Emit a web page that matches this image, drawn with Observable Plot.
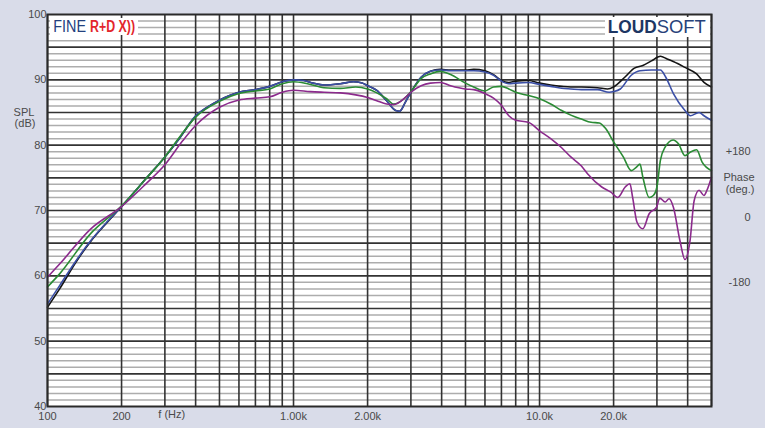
<!DOCTYPE html>
<html><head><meta charset="utf-8">
<script src="https://cdn.jsdelivr.net/npm/d3@7"></script>
<script src="https://cdn.jsdelivr.net/npm/@observablehq/plot@0.6"></script>
<style>
html,body{margin:0;padding:0;background:rgb(217,220,233);}
#chart{width:765px;height:428px;}
</style></head><body><div id="chart"></div><script>
// Frequency responses: [frequency Hz, SPL dB]
const black = [[100,55.2],[112,58.0],[130,62.0],[150,65.3],[175,68.2],[200,70.6],[253,75.0],[300,78.2],[340,80.8],[400,84.4],[450,85.9],[500,86.9],[600,88.1],[700,88.5],[800,89.0],[900,89.7],[1000,90.0],[1100,89.9],[1200,89.5],[1330,89.2],[1550,89.4],[1750,89.7],[1900,89.5],[2000,89.1],[2180,88.4],[2390,86.8],[2600,85.3],[2700,85.2],[2850,86.6],[3000,88.1],[3300,90.4],[3600,91.3],[3950,91.6],[4350,91.5],[5000,91.5],[5400,91.6],[6000,91.4],[6500,90.8],[7000,89.9],[7500,89.6],[8000,89.8],[9000,89.9],[10000,89.5],[11100,89.2],[12300,89.0],[13400,88.9],[14800,88.9],[17200,88.8],[18900,88.6],[20000,88.9],[22200,90.4],[24300,91.8],[26300,92.2],[28500,92.9],[31000,93.6],[33000,93.2],[36400,92.5],[39000,91.9],[43500,90.9],[46600,89.6],[50000,88.9]];
const blue = [[100,55.7],[112,58.5],[130,62.2],[150,65.4],[175,68.3],[200,70.6],[253,75.0],[300,78.2],[340,80.8],[400,84.5],[450,85.9],[500,86.9],[600,88.1],[700,88.5],[800,89.0],[900,89.7],[1000,90.0],[1100,89.9],[1200,89.5],[1330,89.2],[1550,89.4],[1750,89.7],[1900,89.5],[2000,89.1],[2180,88.4],[2390,86.8],[2600,85.3],[2700,85.2],[2850,86.6],[3000,88.1],[3300,90.4],[3600,91.3],[3950,91.5],[4350,91.4],[5000,91.4],[5400,91.4],[6000,91.2],[6500,90.7],[7000,89.8],[7500,89.4],[8000,89.5],[9000,89.6],[10000,89.3],[11100,89.0],[12300,88.7],[13400,88.6],[14800,88.5],[17200,88.5],[19200,88.1],[20000,88.2],[21300,88.6],[23600,90.7],[25600,91.4],[28500,91.5],[31000,91.5],[32600,90.4],[35000,87.9],[39000,85.3],[41000,84.5],[44500,85.0],[46600,84.5],[50000,83.8]];
const green = [[100,58.3],[112,60.3],[150,66.5],[200,70.7],[253,75.0],[300,78.2],[336,80.7],[400,84.3],[500,86.7],[600,87.9],[700,88.3],[800,88.6],[900,89.4],[1000,89.7],[1140,89.4],[1330,88.8],[1550,88.7],[1790,88.9],[2000,88.6],[2180,88.0],[2390,87.1],[2550,86.3],[2850,87.3],[3000,88.2],[3300,90.2],[3600,90.9],[3950,91.3],[4350,90.8],[5000,89.5],[5400,88.9],[6000,88.3],[6500,88.9],[7000,89.0],[7500,88.6],[8000,88.1],[9000,87.6],[10000,87.1],[11100,86.3],[12300,85.3],[13400,84.6],[14800,84.0],[16200,83.5],[17500,83.4],[18600,82.5],[20000,80.5],[21900,78.2],[23600,76.1],[24700,76.6],[25600,77.1],[26300,75.1],[27900,72.0],[29000,72.3],[30000,73.6],[31000,77.7],[32400,79.7],[34900,80.8],[36700,80.2],[39000,78.4],[40900,78.9],[43500,79.3],[45800,77.4],[50000,76.1]];
const purple = [[100,59.8],[112,61.8],[150,67.2],[200,70.6],[250,74.0],[300,77.0],[355,80.7],[400,83.0],[500,85.8],[600,86.9],[700,87.2],[800,87.4],[900,88.1],[1000,88.4],[1170,88.2],[1330,88.1],[1550,88.0],[1790,87.7],[2000,87.3],[2180,86.8],[2390,86.3],[2550,86.2],[2850,87.3],[3000,88.1],[3300,89.1],[3600,89.5],[3950,89.6],[4350,89.1],[5000,88.6],[5400,88.5],[6000,87.9],[6500,87.2],[7000,86.1],[7500,84.5],[8000,83.8],[9000,83.5],[10000,82.2],[11100,81.0],[12300,79.6],[13400,78.2],[14800,76.8],[15700,75.6],[17900,73.6],[19500,72.8],[20800,72.0],[22300,73.6],[23300,74.1],[23900,72.0],[24900,68.2],[26300,67.2],[27900,69.5],[29900,70.5],[30800,71.9],[32400,71.3],[33600,71.8],[35000,70.5],[37200,65.4],[39000,62.5],[40900,65.4],[42500,71.5],[44500,73.1],[46600,72.3],[47900,73.1],[50000,75.1]];

const xTickValues = [100,200,500,1000,2000,5000,10000,20000];
const xTickLabels = ["100","200","500","1.00k","2.00k","5.00k","10.0k","20.0k"];
const yTickValues = [40,50,60,70,80,90,100];
const phaseTicks = [180, 0, -180];
const phaseTickLabels = ["+180","0","-180"];
const xTitle = "f (Hz)";
const xTitleAt = 320;
const yTitle = ["SPL","(dB)"];
const phaseTitle = ["Phase","(deg.)"];

const xGrid = [];
for (const d of [100,1000,10000]) for (let k=1;k<=9;k++){ const f=d*k; if (f<=50000) xGrid.push(f); }
const yMinor = d3.range(41,100).filter(v => v % 5 !== 0);
const yMajor = d3.range(45,100,5);
const phaseToDb = p => 69 + p/18;

const series = [
  {data: black, color: "#141414"},
  {data: blue, color: "#3b4fa6"},
  {data: green, color: "#2a8b34"},
  {data: purple, color: "#8b2a8c"}
];

const chart = Plot.plot({
  width: 765, height: 428,
  marginLeft: 47, marginRight: 54, marginTop: 14, marginBottom: 22,
  style: {background: "transparent", fontFamily: "'Liberation Sans', Arial, sans-serif", fontSize: "11px", color: "#4a4a4a"},
  x: {type: "log", domain: [100, 50000], ticks: xTickValues, tickFormat: v => xTickLabels[xTickValues.indexOf(v)], tickSize: 0, tickPadding: 6, label: null},
  y: {domain: [40, 100], ticks: yTickValues, tickSize: 0, tickPadding: 1, label: null},
  marks: [
    Plot.frame({fill: "white", stroke: null}),
    Plot.ruleY(yMinor, {stroke: "#adadad", strokeWidth: 1.5}),
    Plot.ruleX(xGrid, {stroke: "#333", strokeWidth: 1.6}),
    Plot.ruleY(yMajor, {stroke: "#333", strokeWidth: 1.6}),
    ...series.map(s => Plot.line(s.data, {x: d => d[0], y: d => d[1], stroke: s.color, strokeWidth: 1.6, curve: "monotone-x"})),
    Plot.frame({stroke: "#2a2a2a", strokeWidth: 2}),
    Plot.text(phaseTicks, {y: p => phaseToDb(p), frameAnchor: "right", dx: 39, textAnchor: "end", text: (p, i) => phaseTickLabels[i], fill: "#4a4a4a"}),
    Plot.text([phaseTitle[0]], {frameAnchor: "top-right", dx: 27.5, dy: 158.7, textAnchor: "middle", text: d => d, fill: "#4a4a4a"}),
    Plot.text([phaseTitle[1]], {frameAnchor: "top-right", dx: 28.5, dy: 170.2, textAnchor: "middle", text: d => d, fill: "#4a4a4a"}),
    Plot.text([yTitle[0]], {frameAnchor: "top-left", dx: -23.5, dy: 93.3, textAnchor: "middle", text: d => d, fill: "#4a4a4a"}),
    Plot.text([yTitle[1]], {frameAnchor: "top-left", dx: -22.5, dy: 105, textAnchor: "middle", text: d => d, fill: "#4a4a4a"}),
    Plot.text([xTitleAt], {x: d => d, frameAnchor: "bottom", dy: 11.3, textAnchor: "middle", text: () => xTitle, fill: "#4a4a4a"})
  ]
});
document.getElementById("chart").appendChild(chart);

// Logos
const svg = d3.select(chart);
const g = svg.append("g").attr("font-family", "'Liberation Sans', Arial, sans-serif").attr("text-anchor", "start");
g.append("rect").attr("x", 50).attr("y", 18).attr("width", 88).attr("height", 17).attr("fill", "white");
g.append("text").attr("x", 53.3).attr("y", 32.3).attr("font-size", 16).attr("fill", "#22407e")
  .attr("textLength", 32.7).attr("lengthAdjust", "spacingAndGlyphs").text("FINE");
g.append("text").attr("x", 90).attr("y", 32.3).attr("font-size", 16).attr("font-weight", "bold").attr("fill", "#e3262c")
  .attr("textLength", 45).attr("lengthAdjust", "spacingAndGlyphs").text("R+D X))");
g.append("rect").attr("x", 605).attr("y", 17).attr("width", 105).attr("height", 20).attr("fill", "white");
g.append("text").attr("x", 607.7).attr("y", 33.3).attr("font-size", 18.5).attr("font-weight", "bold").attr("fill", "#1d3663")
  .attr("textLength", 49).attr("lengthAdjust", "spacingAndGlyphs").text("LOUD");
g.append("text").attr("x", 656.7).attr("y", 33.3).attr("font-size", 18.5).attr("fill", "#27427a")
  .attr("textLength", 49).attr("lengthAdjust", "spacingAndGlyphs").text("SOFT");
</script></body></html>
